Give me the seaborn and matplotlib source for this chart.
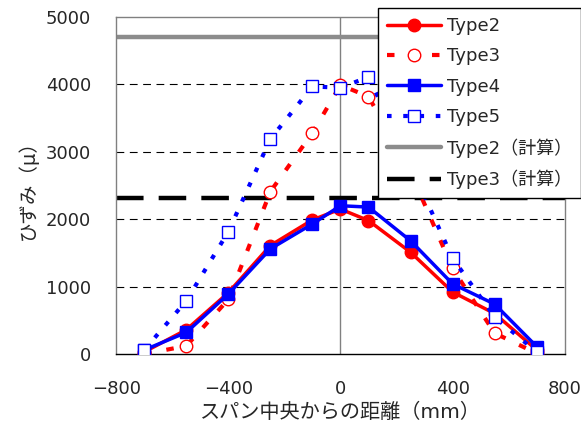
import matplotlib
matplotlib.use("Agg")
import matplotlib.pyplot as plt
import seaborn as sns
import pandas as pd

sns.set_theme(style="white")
plt.rcParams['font.family'] = ['DejaVu Sans', 'Noto Sans CJK JP']

x_mm = [-700, -550, -400, -250, -100, 0, 100, 250, 400, 550, 700]
type2 = [30, 360, 910, 1610, 1990, 2150, 1980, 1510, 920, 600, 60]
type3 = [0, 120, 810, 2410, 3280, 3990, 3820, 2700, 1270, 310, 10]
type4 = [60, 320, 890, 1560, 1930, 2200, 2180, 1680, 1040, 740, 110]
type5 = [60, 790, 1815, 3190, 3970, 3950, 4110, 2800, 1420, 550, 30]
type2_calc = 4700
type3_calc = 2320

series_names = ["Type2", "Type3", "Type4", "Type5"]
calc_names = ["Type2（計算）", "Type3（計算）"]
xlabel = "スパン中央からの距離（mm）"
ylabel = "ひずみ（μ）"
xticks = [-800, -400, 0, 400, 800]
xticklabels = ["−800", "−400", "0", "400", "800"]
yticks = [0, 1000, 2000, 3000, 4000, 5000]

fig = plt.figure(figsize=(5.81, 4.25), dpi=100)
ax = fig.add_axes([0.2, 0.167, 0.772, 0.793])

# gridlines and center line
for yv in yticks[1:-1]:
    ax.axhline(yv, color='black', lw=0.8, ls=(0, (7, 5)), zorder=0)
ax.axvline(0, color='#808080', lw=1.0, zorder=0)

red = '#FF0000'
blue = '#0000FF'
styles = [
    dict(color=red, lw=2.5, ls='-', marker='o', ms=9, mfc=red, mec=red),
    dict(color=red, lw=3.0, ls=(0, (1.8, 3.6)), marker='o', ms=9, mfc='white', mec=red, mew=1.0),
    dict(color=blue, lw=2.5, ls='-', marker='s', ms=9, mfc=blue, mec=blue),
    dict(color=blue, lw=3.0, ls=(0, (1.1, 2.8)), marker='s', ms=9, mfc='white', mec=blue, mew=1.0),
]
data = [type2, type3, type4, type5]
for name, vals, st in zip(series_names, data, styles):
    df = pd.DataFrame({"x": x_mm, "y": vals})
    sns.lineplot(data=df, x="x", y="y", ax=ax, color=st['color'], lw=st['lw'],
                 linestyle=st['ls'], marker=st['marker'], markersize=st['ms'],
                 markerfacecolor=st['mfc'], markeredgecolor=st['mec'],
                 markeredgewidth=st.get('mew', 1.0), label=name, zorder=3)

ax.axhline(type2_calc, color='#8c8c8c', lw=3.2, label=calc_names[0], zorder=2)
ax.axhline(type3_calc, color='black', lw=3.2, ls=(0, (6.2, 3.4)), label=calc_names[1], zorder=2)

ax.set_xlim(-800, 800)
ax.set_ylim(0, 5000)
ax.set_xticks(xticks)
ax.set_yticks(yticks)
ax.set_xticklabels(xticklabels)
ax.tick_params(axis='x', direction='out', length=6, width=1, color='black', labelsize=13, pad=13)
ax.tick_params(axis='y', direction='in', length=6, width=1, color='black', labelsize=13, pad=18)
ax.set_xlabel(xlabel, fontsize=14.5, labelpad=3)
ax.set_ylabel(ylabel, fontsize=14, labelpad=6)
for sp in ax.spines.values():
    sp.set_color('#808080')
    sp.set_linewidth(1.0)
ax.spines['bottom'].set_color('black')

leg = ax.legend(loc='upper right', bbox_to_anchor=(1.0, 0.981), bbox_transform=fig.transFigure,
                fontsize=13, frameon=True, fancybox=False, edgecolor='black',
                handlelength=2.95, borderpad=0.5, labelspacing=0.68, handletextpad=0.35,
                borderaxespad=0)
leg.get_frame().set_linewidth(1.0)
leg.get_frame().set_alpha(1.0)
leg.set_zorder(5)

fig.savefig("out.png", dpi=100)
